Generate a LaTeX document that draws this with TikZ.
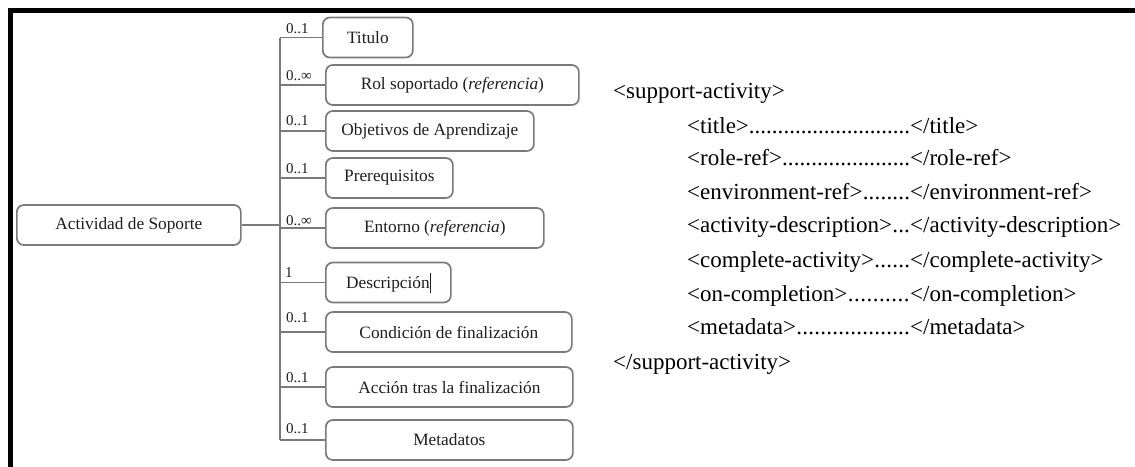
\documentclass[tikz,border=0pt]{standalone}
\usepackage{fontspec}
\setmainfont{Liberation Serif}
\definecolor{linegray}{HTML}{7A7A7A}
\definecolor{textdark}{HTML}{1E1E1E}
% a row of the XML listing: opening tag, dots up to a fixed column, closing tag
\newcommand{\xmlrow}[2]{\hbox to 223pt{#1\xleaders\hbox{.}\hfill}#2}
\begin{document}
\begin{tikzpicture}[x=1pt,y=-1pt,
  elem/.style={draw=linegray, line width=1.7pt, rounded corners=7pt,
    minimum height=40pt, inner sep=0pt, anchor=west, text=textdark,
    font=\fontsize{17.3}{20}\selectfont},
  card/.style={anchor=base west, inner sep=0pt, text=textdark,
    font=\fontsize{15}{17}\selectfont},
  link/.style={draw=linegray, line width=1.9pt},
  xml/.style={anchor=base west, inner sep=0pt,
    font=\fontsize{23}{27}\selectfont}]
\useasboundingbox (0,0) rectangle (1135,466);
\fill[white] (0,0) rectangle (1135,466);

% frame
\draw[line width=5pt] (10.5,470) -- (10.5,10.5) -- (1140,10.5);

% root element
\node[elem, minimum width=224pt] (root) at (16,225) {Actividad de Soporte};

% child elements
\node[elem, minimum width=90pt]  (titulo) at (322,37.5) {Titulo};
\node[elem, minimum width=253pt] (rol)    at (325,85)   {Rol soportado (\textit{referencia})};
\node[elem, minimum width=208pt] (obj)    at (325,131)  {Objetivos de Aprendizaje};
\node[elem, minimum width=127pt] (prereq) at (325,178)  {Prerequisitos};
\node[elem, minimum width=218pt] (ent)    at (325,228)  {Entorno (\textit{referencia})};
\node[elem, minimum width=125pt] (desc)   at (325,282.5){Descripción\rule[-4pt]{0.9pt}{20pt}};
\node[elem, minimum width=246pt] (cond)   at (325,332)  {Condición de finalización};
\node[elem, minimum width=247pt] (accion) at (325,387)  {Acción tras la finalización};
\node[elem, minimum width=247pt] (meta)   at (325,440)  {Metadatos};

% tree connectors
\coordinate (trunk) at (280,0);
\draw[link] (root.east) -- (root.east -| trunk);
\draw[link] (titulo.west -| trunk) -- (meta.west -| trunk);
\foreach \n in {titulo,rol,obj,prereq,ent,desc,cond,accion,meta}
  \draw[link] (\n.west -| trunk) -- (\n.west);

% cardinalities
\node[card] (c1) at (286,33)  {0..1};
\node[card] (c2) at (286,80)  {0..∞};
\node[card] (c3) at (286,125) {0..1};
\node[card] (c4) at (286,173) {0..1};
\node[card] (c5) at (286,225) {0..∞};
\node[card] (c6) at (285,277) {1};
\node[card] (c7) at (286,322) {0..1};
\node[card] (c8) at (286,382) {0..1};
\node[card] (c9) at (286,433) {0..1};

% XML listing
\node[xml] (x0) at (613,98)  {<support-activity>};
\node[xml] (x1) at (687,133) {\xmlrow{<title>}{</title>}};
\node[xml] (x2) at (687,165) {\xmlrow{<role-ref>}{</role-ref>}};
\node[xml] (x3) at (687,199) {\xmlrow{<environment-ref>}{</environment-ref>}};
\node[xml] (x4) at (687,232) {\xmlrow{<activity-description>}{</activity-description>}};
\node[xml] (x5) at (687,267) {\xmlrow{<complete-activity>}{</complete-activity>}};
\node[xml] (x6) at (687,301) {\xmlrow{<on-completion>}{</on-completion>}};
\node[xml] (x7) at (687,334) {\xmlrow{<metadata>}{</metadata>}};
\node[xml] (x8) at (613,369) {</support-activity>};
\end{tikzpicture}
\end{document}
